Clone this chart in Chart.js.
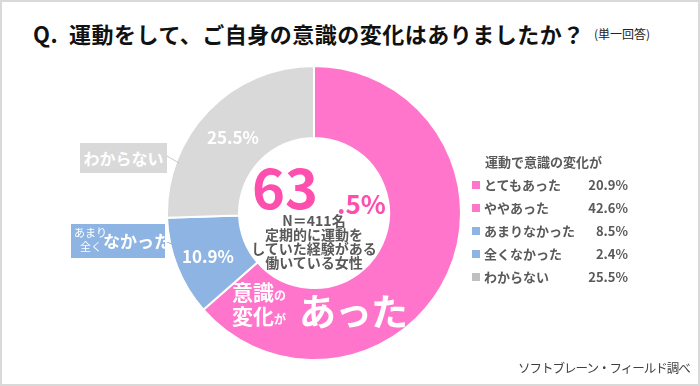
<!DOCTYPE html>
<html><head><meta charset="utf-8">
<script src="https://cdn.jsdelivr.net/npm/chart.js@4"></script>
<style>
html,body{margin:0;padding:0;background:#fff;}
#wrap{position:relative;width:700px;height:386px;box-sizing:border-box;border:2px solid #D9D9D9;overflow:hidden;font-family:"Noto Sans CJK JP","Noto Sans",sans-serif;}
.abs{position:absolute;white-space:nowrap;}
#title{left:31px;top:15px;font-size:22px;font-weight:bold;color:#111;letter-spacing:0.5px;}
#sub{left:592px;top:23px;font-size:12px;color:#222;}
#cv{position:absolute;left:164px;top:63px;}
.w{color:#fff;font-weight:bold;}
#leg{left:470px;top:148px;color:#595959;font-size:13px;font-weight:bold;}
.row{position:relative;height:23px;line-height:23px;}
.sq{display:inline-block;width:8px;height:8px;margin-right:4px;vertical-align:middle;position:relative;top:-1px;}
.val{position:absolute;left:86px;width:70px;text-align:right;top:0;}
#src{left:516px;top:356px;font-size:12.5px;letter-spacing:-1px;color:#404040;}
</style></head><body>
<div id="wrap">
<div id="title" class="abs">Q.&nbsp;&nbsp;運動をして、ご自身の意識の変化はありましたか？</div>
<div id="sub" class="abs">(単一回答)</div>
<canvas id="cv" width="296" height="296"></canvas>
<svg class="abs" style="left:0;top:0" width="700" height="386"><line x1="165" y1="154" x2="177" y2="161" stroke="#C8C8C8" stroke-width="1"/><line x1="163" y1="239" x2="172" y2="243" stroke="#8DB4E2" stroke-width="1"/></svg>
<div class="abs w" style="left:78px;top:141px;width:87px;height:30px;background:#D9D9D9;font-size:16px;line-height:30px;text-align:center;">わからない</div>
<div class="abs w" style="left:69px;top:222px;width:94px;height:34px;background:#8DB4E2;">
  <span class="abs" style="left:3px;top:2px;font-size:11px;font-weight:normal;line-height:13px;">あまり</span>
  <span class="abs" style="left:9px;top:16px;font-size:11px;font-weight:normal;line-height:13px;">全く</span>
  <span class="abs" style="left:32px;top:5px;font-size:17px;line-height:24px;">なかった</span>
</div>
<div class="abs w" style="left:205px;top:122px;font-size:17px;">25.5%</div>
<div class="abs w" style="left:180px;top:241px;font-size:17px;">10.9%</div>
<div class="abs w" style="left:230px;top:279px;font-size:21px;line-height:21px;">意識<span style="font-size:12px;">の</span><br>変化<span style="font-size:12px;">が</span></div>
<div class="abs w" style="left:297px;top:286px;font-size:37px;line-height:44px;letter-spacing:-1px;">あった</div>
<div class="abs" style="left:250px;top:150px;font-size:56px;font-weight:bold;color:#FF4FAE;line-height:66px;">63</div>
<div class="abs" style="left:335px;top:184px;font-size:26px;font-weight:bold;color:#FF4FAE;line-height:34px;">.5%</div>
<div class="abs" style="left:232px;top:211px;width:160px;text-align:center;font-size:14px;font-weight:bold;color:#595959;line-height:14px;">N＝411名<br>定期的に運動を<br>していた経験がある<br>働いている女性</div>
<div id="leg" class="abs"></div>
<div id="src" class="abs">ソフトブレーン・フィールド調べ</div>
</div>
<script>
const categories = ['意識の変化があった', 'あまり・全くなかった', 'わからない'];
const values = [63.5, 10.9, 25.5];
const colors = ['#FF75CB', '#8DB4E2', '#D9D9D9'];
const legendTitle = '運動で意識の変化が';
const legendLabels = ['とてもあった', 'ややあった', 'あまりなかった', '全くなかった', 'わからない'];
const legendValues = ['20.9%', '42.6%', '8.5%', '2.4%', '25.5%'];
const legendColors = ['#FF75CB', '#FF75CB', '#8DB4E2', '#8DB4E2', '#BFBFBF'];

const leg = document.getElementById('leg');
let h = '<div class="row" style="padding-left:13px;">' + legendTitle + '</div>';
legendLabels.forEach((l, i) => {
  h += '<div class="row"><span class="sq" style="background:' + legendColors[i] + '"></span>' + l +
       '<span class="val">' + legendValues[i] + '</span></div>';
});
leg.innerHTML = h;

new Chart(document.getElementById('cv'), {
  type: 'doughnut',
  data: { labels: categories, datasets: [{ data: values, backgroundColor: colors, borderColor: '#fff', borderWidth: 2 }] },
  options: {
    responsive: false, animation: false, cutout: '51%',
    plugins: { legend: { display: false }, tooltip: { enabled: false } },
    layout: { padding: 0 }
  }
});
</script>
</body></html>
